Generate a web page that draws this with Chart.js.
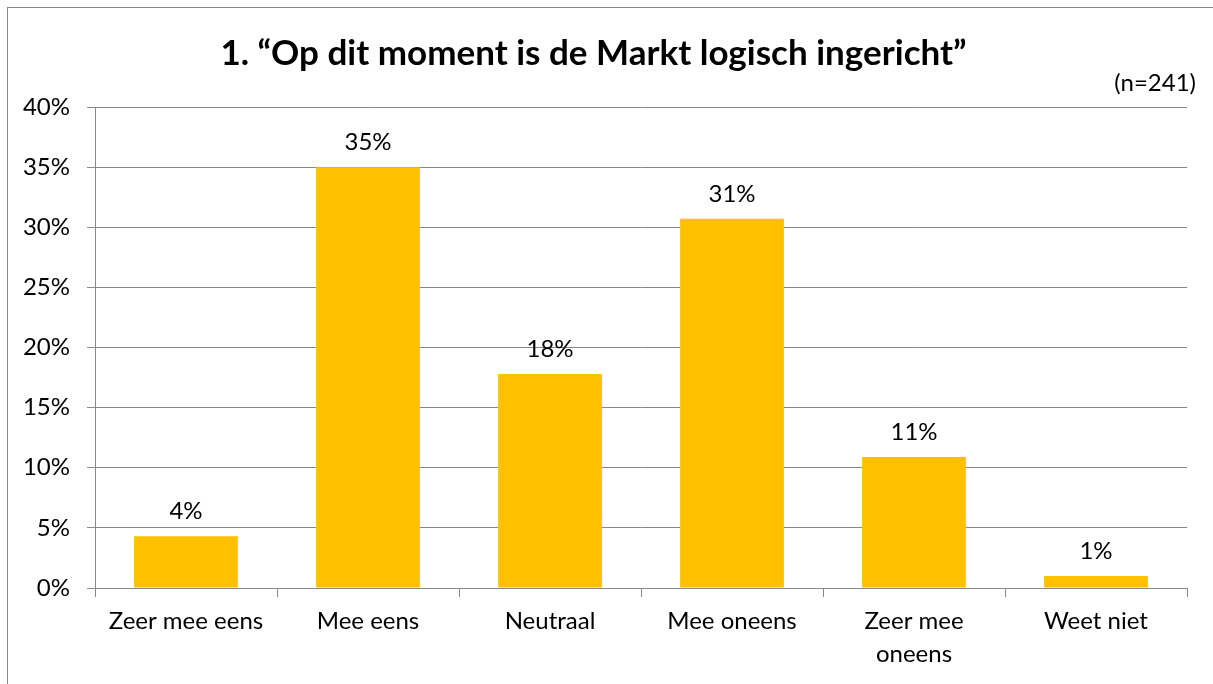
<!DOCTYPE html>
<html>
<head>
<meta charset="utf-8">
<script src="https://cdn.jsdelivr.net/npm/chart.js@4.4.0/dist/chart.umd.min.js"></script>
<style>
    body { margin: 0; background: #ffffff; overflow: hidden; }
    #kader { position: absolute; left: 7px; top: 7px; width: 1240px; height: 700px; border: 1px solid #888888; }
    #houder { position: absolute; left: 0; top: 0; width: 1213px; height: 684px; }
</style>
</head>
<body>
<div id="kader"></div>
<div id="houder"><canvas id="grafiek"></canvas></div>
<script>
const titel = '1. \u201cOp dit moment is de Markt logisch ingericht\u201d';
const aantal = '(n=241)';
const categorieen = ['Zeer mee eens', 'Mee eens', 'Neutraal', 'Mee oneens', ['Zeer mee', 'oneens'], 'Weet niet'];
const percentages = [4.3, 35.0, 17.8, 30.7, 10.9, 1.0];
const yMax = 40;
const yStap = 5;

const lettertype = 'Lato, "Open Sans", sans-serif';
const grijs = '#888888';

// labels boven de staven
const staafLabels = {
    id: 'staafLabels',
    afterDatasetsDraw(chart) {
        const ctx = chart.ctx;
        const meta = chart.getDatasetMeta(0);
        ctx.save();
        ctx.font = '24px ' + lettertype;
        ctx.fillStyle = '#000';
        ctx.textAlign = 'center';
        ctx.textBaseline = 'middle';
        meta.data.forEach((bar, i) => {
            ctx.fillText(Math.round(percentages[i]) + '%', bar.x, bar.y - 25);
        });
        ctx.restore();
    }
};

// (n=241) rechtsboven
const aantalTekst = {
    id: 'aantalTekst',
    afterDraw(chart) {
        const ctx = chart.ctx;
        ctx.save();
        ctx.font = '24px ' + lettertype;
        ctx.fillStyle = '#000';
        ctx.textAlign = 'right';
        ctx.textBaseline = 'middle';
        ctx.fillText(aantal, chart.chartArea.right + 9, 83);
        ctx.restore();
    }
};

const grafiek = document.getElementById('grafiek');
new Chart(grafiek, {
    type: 'bar',
    data: {
        labels: categorieen,
        datasets: [{
            data: percentages,
            backgroundColor: '#FFC000',
            borderWidth: 0,
            barPercentage: 0.57,
            categoryPercentage: 1
        }]
    },
    options: {
        responsive: true,
        maintainAspectRatio: false,
        animation: false,
        layout: {
            padding: { left: 0, right: 26, top: 0, bottom: 0 }
        },
        scales: {
            y: {
                min: 0,
                max: yMax,
                ticks: {
                    stepSize: yStap,
                    padding: 17,
                    color: '#000',
                    font: { family: lettertype, size: 24 },
                    callback: (v) => v + '%'
                },
                grid: {
                    color: grijs,
                    lineWidth: 1,
                    tickLength: 8
                },
                border: { display: true, color: grijs, width: 1 },
                afterFit: (scale) => { scale.width = 95; }
            },
            x: {
                ticks: {
                    padding: 8,
                    color: '#000',
                    font: { family: lettertype, size: 24, lineHeight: 1.375 },
                    maxRotation: 0,
                    autoSkip: false
                },
                grid: {
                    offset: true,
                    drawOnChartArea: false,
                    color: grijs,
                    tickLength: 9
                },
                border: { display: true, color: grijs, width: 1 },
                afterFit: (scale) => { scale.height = 96; }
            }
        },
        plugins: {
            legend: { display: false },
            tooltip: { enabled: false },
            title: {
                display: true,
                text: titel,
                color: '#000',
                font: { family: lettertype, size: 35, weight: 'bold', lineHeight: 1.2 },
                padding: { top: 33, bottom: 32 }
            }
        }
    },
    plugins: [staafLabels, aantalTekst]
});
</script>
</body>
</html>
